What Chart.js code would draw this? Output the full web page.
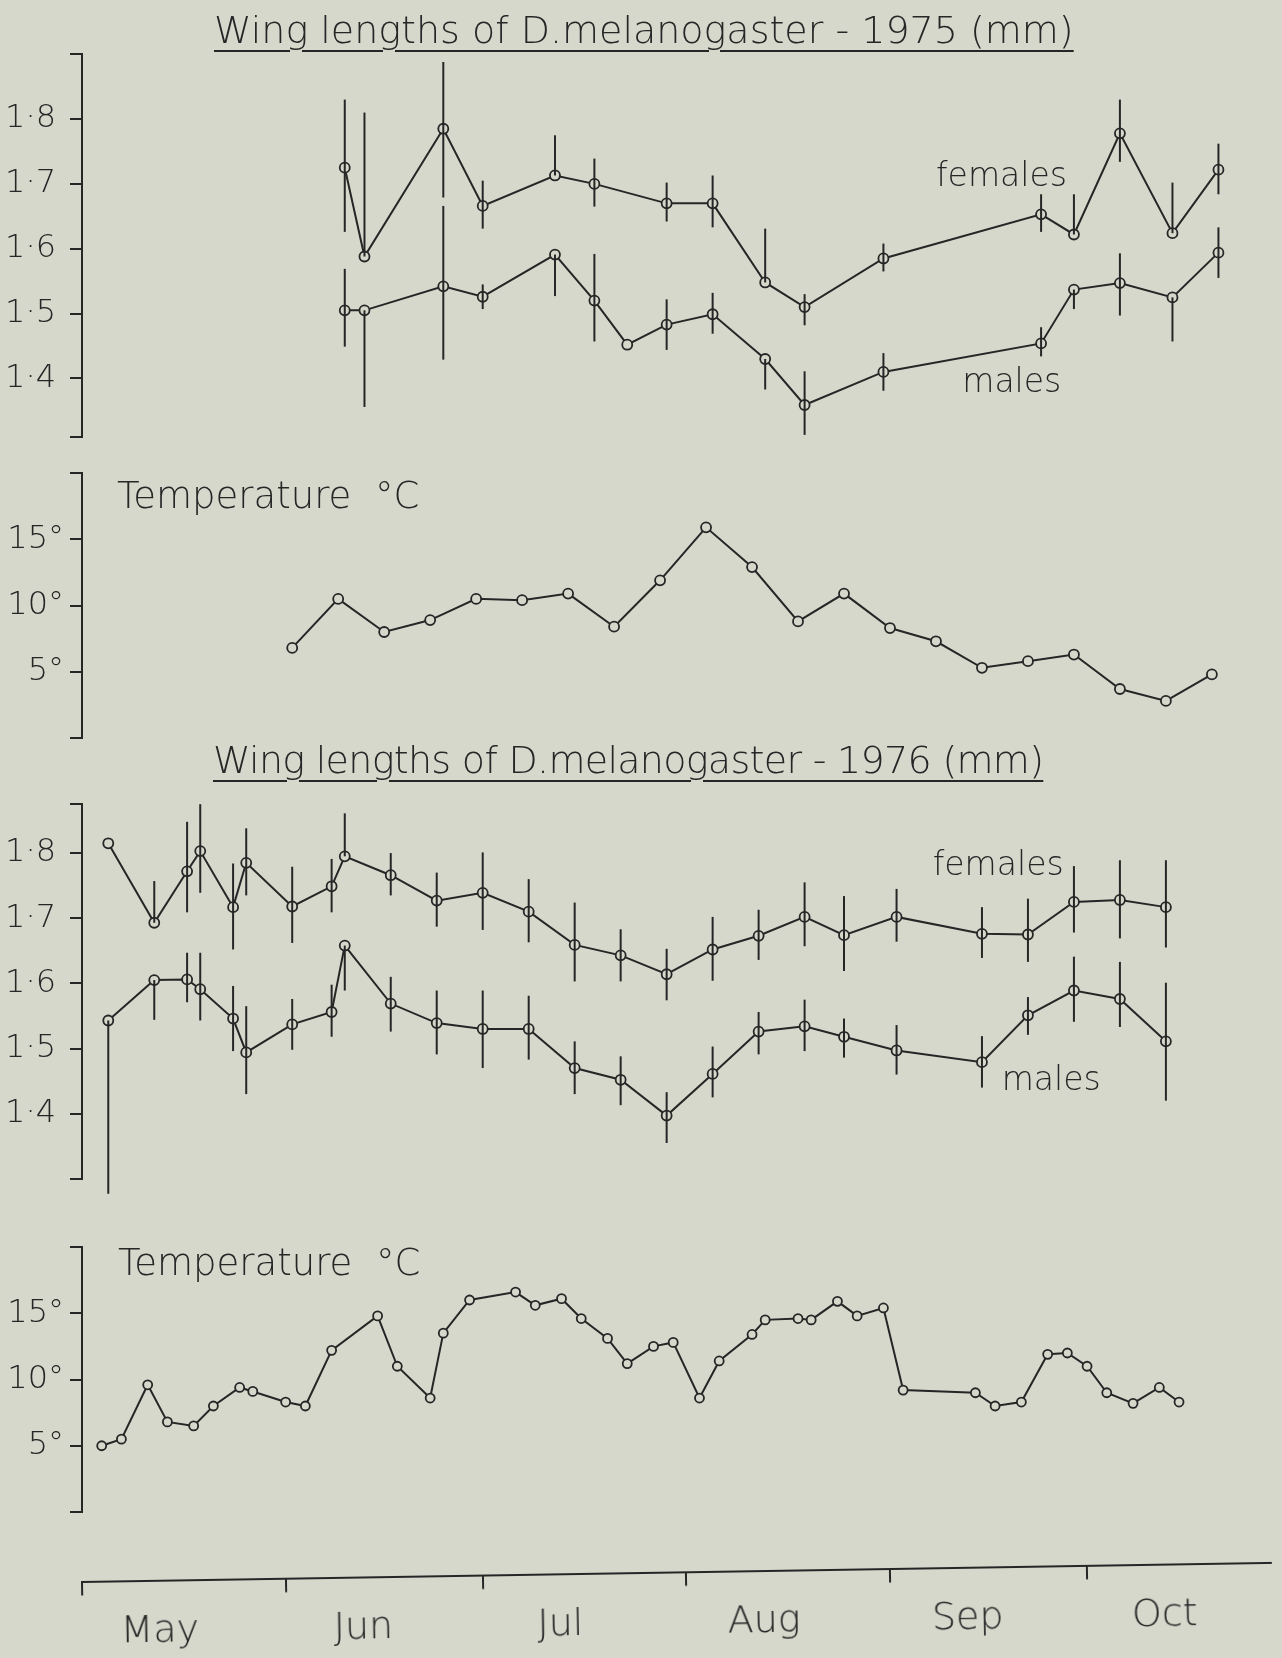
<!DOCTYPE html>
<html>
<head>
<meta charset="utf-8">
<title>Wing lengths of D.melanogaster</title>
<script src="https://cdn.jsdelivr.net/npm/chart.js@4.4.0/dist/chart.umd.min.js"></script>
<style>
  body { margin: 0; background: #d6d8cc; }
  #page { position: relative; width: 1282px; height: 1658px; overflow: hidden; background: #d6d8cc;
          font-family: "DejaVu Sans", "Liberation Sans", sans-serif; font-weight: 200; color: #262626; }
  .box { position: absolute; left: 0; top: 0; width: 1282px; }
  .box canvas { display: block; }
  .title { position: absolute; font-size: 38px; line-height: 38px; white-space: pre;
           text-decoration: underline; text-decoration-thickness: 2px; text-underline-offset: 7px; }
  .temp { position: absolute; font-size: 37px; line-height: 37px; white-space: pre; }
</style>
</head>
<body>
<div id="page">
  <div class="box"><canvas id="wing75"></canvas></div>
  <div class="box"><canvas id="temp75"></canvas></div>
  <div class="box"><canvas id="wing76"></canvas></div>
  <div class="box"><canvas id="temp76"></canvas></div>
  <div class="box"><canvas id="months"></canvas></div>

  <div class="title" style="left:214px; top:11px;">Wing lengths of D.melanogaster - 1975 (mm)</div>
  <div class="temp" style="left:117px; top:477px;">Temperature  °C</div>
  <div class="title" style="left:213px; top:741px; letter-spacing:-0.7px;">Wing lengths of D.melanogaster - 1976 (mm)</div>
  <div class="temp" style="left:118px; top:1244px;">Temperature  °C</div>
</div>

<script>
// x values are days counted from 1 May
var monthStarts = [0, 31, 61, 92, 123, 153];
var monthNames = ['May', 'Jun', 'Jul', 'Aug', 'Sep', 'Oct'];
var wingTicks = [1.4, 1.5, 1.6, 1.7, 1.8];
var tempTicks = [5, 10, 15];

// 1975 wing lengths (mm), vertical bars from lo to hi
var days1975w = [40, 43, 55, 61, 72, 78, 83, 89, 96, 104, 110, 122, 146, 151, 158, 166, 173];
var fem1975   = [1.725, 1.588, 1.785, 1.666, 1.713, 1.700, null, 1.670, 1.670, 1.548, 1.510, 1.585, 1.653, 1.622, 1.778, 1.624, 1.722];
var fem1975Hi = [1.830, 1.810, 1.888, 1.705, 1.775, 1.739, null, 1.702, 1.713, 1.631, 1.530, 1.608, 1.684, 1.684, 1.830, 1.702, 1.762];
var fem1975Lo = [1.626, 1.588, 1.679, 1.631, 1.713, 1.665, null, 1.642, 1.633, 1.548, 1.482, 1.565, 1.626, 1.622, 1.734, 1.624, 1.684];
var male1975   = [1.505, 1.505, 1.542, 1.526, 1.591, 1.520, 1.452, 1.483, 1.499, 1.430, 1.359, 1.410, 1.454, 1.537, 1.547, 1.525, 1.594];
var male1975Hi = [1.569, 1.505, 1.666, 1.545, 1.591, 1.592, null, 1.522, 1.532, 1.430, 1.411, 1.439, 1.479, 1.537, 1.593, 1.525, 1.633];
var male1975Lo = [1.449, 1.356, 1.429, 1.507, 1.527, 1.457, null, 1.444, 1.469, 1.383, 1.313, 1.381, 1.434, 1.507, 1.497, 1.457, 1.555];

// 1975 temperature (°C)
var days1975t = [32, 39, 46, 53, 60, 67, 74, 81, 88, 95, 102, 109, 116, 123, 130, 137, 144, 151, 158, 165, 172];
var temp1975  = [6.8, 10.5, 8.0, 8.9, 10.5, 10.4, 10.9, 8.4, 11.9, 15.9, 12.9, 8.8, 10.9, 8.3, 7.3, 5.3, 5.8, 6.3, 3.7, 2.8, 4.8];

// 1976 wing lengths (mm)
var days1976w = [4, 11, 16, 18, 23, 25, 32, 38, 40, 47, 54, 61, 68, 75, 82, 89, 96, 103, 110, 116, 124, 137, 144, 151, 158, 165];
var fem1976   = [1.815, 1.693, 1.772, 1.803, 1.717, 1.785, 1.718, 1.749, 1.795, 1.766, 1.727, 1.739, 1.710, 1.659, 1.643, 1.614, 1.652, 1.673, 1.702, 1.674, 1.702, 1.676, 1.675, 1.725, 1.728, 1.717];
var fem1976Hi = [null, 1.757, 1.848, 1.875, 1.784, 1.838, 1.779, 1.791, 1.861, 1.800, 1.770, 1.801, 1.760, 1.724, 1.683, 1.653, 1.702, 1.713, 1.755, 1.734, 1.745, 1.717, 1.730, 1.780, 1.789, 1.789];
var fem1976Lo = [null, 1.693, 1.709, 1.739, 1.652, 1.735, 1.662, 1.709, 1.795, 1.735, 1.687, 1.682, 1.663, 1.603, 1.603, 1.574, 1.604, 1.636, 1.657, 1.619, 1.664, 1.639, 1.633, 1.678, 1.669, 1.655];
var male1976   = [1.543, 1.605, 1.606, 1.591, 1.546, 1.494, 1.537, 1.556, 1.658, 1.569, 1.539, 1.530, 1.530, 1.470, 1.452, 1.397, 1.461, 1.526, 1.534, 1.518, 1.497, 1.479, 1.551, 1.589, 1.576, 1.511];
var male1976Hi = [1.543, 1.605, 1.647, 1.647, 1.596, 1.565, 1.576, 1.598, 1.658, 1.610, 1.589, 1.589, 1.581, 1.511, 1.488, 1.433, 1.503, 1.556, 1.575, 1.546, 1.536, 1.519, 1.579, 1.641, 1.633, 1.601];
var male1976Lo = [1.277, 1.544, 1.571, 1.543, 1.496, 1.430, 1.498, 1.518, 1.589, 1.526, 1.491, 1.470, 1.483, 1.430, 1.413, 1.355, 1.425, 1.491, 1.496, 1.486, 1.460, 1.440, 1.521, 1.541, 1.533, 1.420];

// 1976 temperature (°C)
var days1976t = [3, 6, 10, 13, 17, 20, 24, 26, 31, 34, 38, 45, 48, 53, 55, 59, 66, 69, 73, 76, 80, 83, 87, 90, 94, 97, 102, 104, 109, 111, 115, 118, 122, 125, 136, 139, 143, 147, 150, 153, 156, 160, 164, 167];
var temp1976  = [5.0, 5.5, 9.6, 6.8, 6.5, 8.0, 9.4, 9.1, 8.3, 8.0, 12.2, 14.8, 11.0, 8.6, 13.5, 16.0, 16.6, 15.6, 16.1, 14.6, 13.1, 11.2, 12.5, 12.8, 8.6, 11.4, 13.4, 14.5, 14.6, 14.5, 15.9, 14.8, 15.4, 9.2, 9.0, 8.0, 8.3, 11.9, 12.0, 11.0, 9.0, 8.2, 9.4, 8.3];

var ink = '#262626';
var paper = '#d6d8cc';
var fam = '"DejaVu Sans", "Liberation Sans", sans-serif';
var xMin = 0, xMax = 181;

function series(days, vals, lo, hi, r) {
    return {
        data: days.map(function (d, i) { return {x: d, y: vals[i]}; }),
        days: days, errLo: lo, errHi: hi,
        showLine: true, spanGaps: true, clip: false,
        borderColor: ink, borderWidth: 2,
        pointRadius: r || 5, pointBorderWidth: 1.8,
        pointBorderColor: ink, pointBackgroundColor: paper
    };
}

// vertical range bars through the points
var errorBars = {
    id: 'errorBars',
    afterDatasetsDraw: function (chart) {
        var ctx = chart.ctx, xs = chart.scales.x, ys = chart.scales.y;
        ctx.save();
        ctx.strokeStyle = ink;
        ctx.lineWidth = 2;
        chart.data.datasets.forEach(function (ds) {
            if (!ds.errLo) return;
            ds.days.forEach(function (d, i) {
                if (ds.errLo[i] == null || ds.errHi[i] == null) return;
                if (ds.errLo[i] === ds.errHi[i]) return;
                var x = xs.getPixelForValue(d);
                ctx.beginPath();
                ctx.moveTo(x, ys.getPixelForValue(ds.errHi[i]));
                ctx.lineTo(x, ys.getPixelForValue(ds.errLo[i]));
                ctx.stroke();
            });
        });
        ctx.restore();
    }
};

// "females" / "males" written next to the curves
function notePlugin(items) {
    return {
        id: 'notes',
        afterDatasetsDraw: function (chart) {
            var ctx = chart.ctx;
            ctx.save();
            ctx.fillStyle = ink;
            ctx.font = '200 33px ' + fam;
            ctx.textAlign = 'left';
            ctx.textBaseline = 'alphabetic';
            items.forEach(function (it) {
                ctx.fillText(it.text, chart.scales.x.getPixelForValue(it.x), chart.scales.y.getPixelForValue(it.y));
            });
            ctx.restore();
        }
    };
}

function panel(id, areaTop, areaBottom, yMin, yMax, yTicks, fmt, labelPad, datasets, notes) {
    var pad = 30;
    var canvas = document.getElementById(id);
    var box = canvas.parentNode;
    canvas.width = 1282;
    canvas.height = Math.round(areaBottom - areaTop) + 2 * pad;
    var chart = new Chart(canvas, {
        type: 'scatter',
        data: {datasets: datasets},
        options: {
            responsive: false,
            animation: false,
            events: [],
            layout: {padding: {top: pad, bottom: pad, left: 0, right: 11}},
            plugins: {legend: {display: false}, tooltip: {enabled: false}},
            scales: {
                x: {type: 'linear', min: xMin, max: xMax, display: false},
                y: {
                    type: 'linear', min: yMin, max: yMax,
                    afterBuildTicks: function (s) {
                        s.ticks = [yMin].concat(yTicks, [yMax]).map(function (v) { return {value: v}; });
                    },
                    afterFit: function (s) { s.width = 82; },
                    border: {display: true, color: ink, width: 2},
                    grid: {drawOnChartArea: false, tickLength: 12, color: ink, lineWidth: 2},
                    ticks: {
                        color: ink, padding: labelPad, autoSkip: false,
                        font: {family: fam, size: 32, weight: '200'},
                        callback: function (v) { return yTicks.indexOf(v) >= 0 ? fmt(v) : ''; }
                    }
                }
            }
        },
        plugins: [errorBars, notePlugin(notes || [])]
    });
    box.style.top = (areaTop - chart.chartArea.top) + 'px';
    return chart;
}

function monthAxis(id, axisY) {
    var canvas = document.getElementById(id);
    var box = canvas.parentNode;
    canvas.width = 1282;
    canvas.height = 220;
    var chart = new Chart(canvas, {
        type: 'scatter',
        data: {datasets: []},
        options: {
            responsive: false,
            animation: false,
            events: [],
            layout: {padding: {top: 4, bottom: 0, left: 82, right: 11}},
            plugins: {legend: {display: false}, tooltip: {enabled: false}},
            scales: {
                x: {
                    type: 'linear', min: xMin, max: xMax, position: 'bottom',
                    afterBuildTicks: function (s) {
                        s.ticks = monthStarts.map(function (v) { return {value: v}; });
                    },
                    border: {display: true, color: ink, width: 2},
                    grid: {drawOnChartArea: false, tickLength: 13, color: ink, lineWidth: 2},
                    ticks: {
                        color: ink, padding: 15, labelOffset: 77, maxRotation: 0, autoSkip: false,
                        font: {family: fam, size: 38, weight: '200'},
                        callback: function (v, i) { return monthNames[i]; }
                    }
                },
                y: {display: false, min: 0, max: 1}
            }
        }
    });
    var b = chart.chartArea.bottom;
    box.style.top = (axisY - b) + 'px';
    box.style.transformOrigin = '82px ' + b + 'px';
    box.style.transform = 'rotate(-0.92deg)';
    return chart;
}

var wingFmt = function (v) { return v.toFixed(1).replace('.', '·'); };
var tempFmt = function (v) { return v + '°'; };

panel('wing75', 54, 443, 1.31, 1.90, wingTicks, wingFmt, 14, [
    series(days1975w, fem1975, fem1975Lo, fem1975Hi),
    series(days1975w, male1975, male1975Lo, male1975Hi)
], [{text: 'females', x: 130, y: 1.697}, {text: 'males', x: 134, y: 1.379}]);

panel('temp75', 473, 738, 0, 20, tempTicks, tempFmt, 6, [
    series(days1975t, temp1975, null, null)
]);

panel('wing76', 804, 1184.5, 1.30, 1.875, wingTicks, wingFmt, 14, [
    series(days1976w, fem1976, fem1976Lo, fem1976Hi),
    series(days1976w, male1976, male1976Lo, male1976Hi)
], [{text: 'females', x: 129.5, y: 1.767}, {text: 'males', x: 140, y: 1.437}]);

panel('temp76', 1247, 1512, 0, 20, tempTicks, tempFmt, 6, [
    series(days1976t, temp1976, null, null, 4.5)
]);

monthAxis('months', 1582);
</script>
</body>
</html>
